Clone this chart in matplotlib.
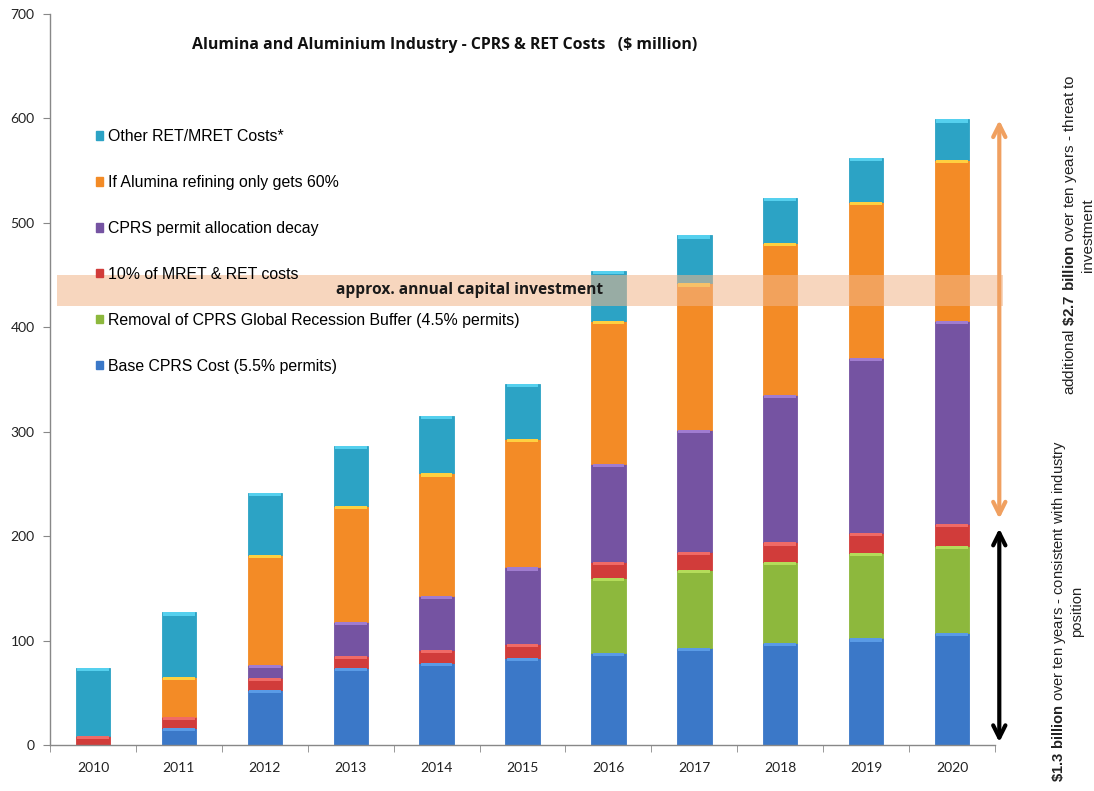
import matplotlib
matplotlib.use("Agg")
import matplotlib.pyplot as plt
import numpy as np
from matplotlib.patches import Patch

plt.rcParams['font.family'] = ['Liberation Sans', 'DejaVu Sans']
plt.rcParams['mathtext.fontset'] = 'custom'
plt.rcParams['mathtext.rm'] = 'Liberation Sans'
plt.rcParams['mathtext.bf'] = 'Liberation Sans:bold'

years = ['2010', '2011', '2012', '2013', '2014', '2015', '2016', '2017', '2018', '2019', '2020']
base_cprs = [0, 16, 53, 74, 79, 83, 88, 93, 98, 102, 107]
recession_buffer = [0, 0, 0, 0, 0, 0, 72, 75, 77, 82, 84]
mret_ret_10pct = [9, 11, 11, 11, 12, 14, 15, 17, 19, 19, 21]
permit_decay = [0, 0, 13, 33, 52, 73, 94, 117, 141, 168, 194]
alumina_60pct = [0, 38, 105, 111, 117, 123, 137, 140, 146, 149, 154]
other_ret = [65, 62, 59, 57, 55, 53, 48, 46, 43, 42, 39]

series = [
    ('Base CPRS Cost (5.5% permits)', base_cprs, '#3B78C8', '#5A9BE6'),
    ('Removal of CPRS Global Recession Buffer (4.5% permits)', recession_buffer, '#8DB83D', '#B4DC5A'),
    ('10% of MRET & RET costs', mret_ret_10pct, '#D13C3A', '#F06A66'),
    ('CPRS permit allocation decay', permit_decay, '#7553A2', '#A07CD0'),
    ('If Alumina refining only gets 60%', alumina_60pct, '#F38B26', '#FFD040'),
    ('Other RET/MRET Costs*', other_ret, '#2CA3C5', '#55D0EE'),
]

fig = plt.figure(figsize=(10.94, 7.91), dpi=100)
ax = fig.add_axes([50/1094, 46/791, 945/1094, 731/791])

x = np.arange(len(years))
bottom = np.zeros(len(years))
handles = []
for label, vals, col, hi in series:
    v = np.array(vals, dtype=float)
    ax.bar(x, v, 0.4, bottom=bottom, color=col, edgecolor=col, linewidth=0.6, zorder=2)
    # thin bevel highlight at the top of each non-empty segment
    mask = v > 0
    ax.bar(x[mask], np.minimum(v[mask], 3.0), 0.37, bottom=(bottom + v - np.minimum(v, 3.0))[mask],
           color=hi, linewidth=0, zorder=2.5)
    bottom += v
    handles.append(Patch(facecolor=col, edgecolor=col, label=label))

ax.set_xlim(-0.5, len(years) - 0.5)
ax.set_ylim(0, 700)
ax.set_yticks(range(0, 701, 100))
ax.set_xticks(x)
ax.set_xticklabels(years, fontsize=10, family=['Lato', 'DejaVu Sans'], color='#222222')
ax.set_xticks(np.arange(-0.5, len(years), 1), minor=True)
ax.tick_params(axis='x', which='major', length=0, pad=12)
ax.tick_params(axis='x', which='minor', length=5, color='#888888', direction='out')
ax.tick_params(axis='y', length=5, color='#888888', direction='out', labelsize=10, labelcolor='#222222', pad=6)
for lab in ax.get_yticklabels():
    lab.set_family(['Lato', 'DejaVu Sans'])
for s in ['top', 'right']:
    ax.spines[s].set_visible(False)
for s in ['left', 'bottom']:
    ax.spines[s].set_color('#888888')
    ax.spines[s].set_linewidth(1)

# legend (reversed order, top = Other)
leg = ax.legend(handles=handles[::-1], loc='upper left', bbox_to_anchor=(0.042, 0.851),
                frameon=False, fontsize=11.4, handlelength=0.45, handleheight=0.45,
                handletextpad=0.3, labelspacing=1.95, borderaxespad=0)

# capital investment band
ax.axhspan(420, 450, xmin=7/945, xmax=953/945, color='#F2B58A', alpha=0.55, lw=0, zorder=3, clip_on=False)
ax.text(4.38, 436, 'approx. annual capital investment', ha='center', va='center',
        fontsize=11.2, fontweight='bold', family=['Open Sans', 'DejaVu Sans'], color='#1a1a1a', zorder=4)

# title
ax.text(0.418, 0.958, 'Alumina and Aluminium Industry - CPRS & RET Costs   ($ million)',
        transform=ax.transAxes, ha='center', va='center', fontsize=11.4, fontweight='bold',
        family=['Open Sans', 'DejaVu Sans'], color='#111111')

# arrows
xa = 10.55
total_2020 = sum(s[1][-1] for s in series)
base_top = base_cprs[-1] + recession_buffer[-1] + mret_ret_10pct[-1]
ax.annotate('', xy=(xa, total_2020 + 2), xytext=(xa, base_top + 2),
            arrowprops=dict(arrowstyle='<->', color='#F0A060', lw=3, mutation_scale=22),
            annotation_clip=False, zorder=5)
ax.annotate('', xy=(xa, base_top - 2), xytext=(xa, 0),
            arrowprops=dict(arrowstyle='<->', color='black', lw=3, mutation_scale=22),
            annotation_clip=False, zorder=5)

fig.text(1078/1094, 1 - 235/791,
         'additional $\\mathbf{\\$2.7\\ billion}$ over ten years - threat to\ninvestment',
         rotation=90, ha='center', va='center', multialignment='center', fontsize=11, color='#222222')
fig.text(1067/1094, 1 - 611/791,
         '$\\mathbf{\\$1.3\\ billion}$ over ten years - consistent with industry\nposition',
         rotation=90, ha='center', va='center', multialignment='center', fontsize=10.6, color='#222222')

fig.savefig('out.png', dpi=100)
